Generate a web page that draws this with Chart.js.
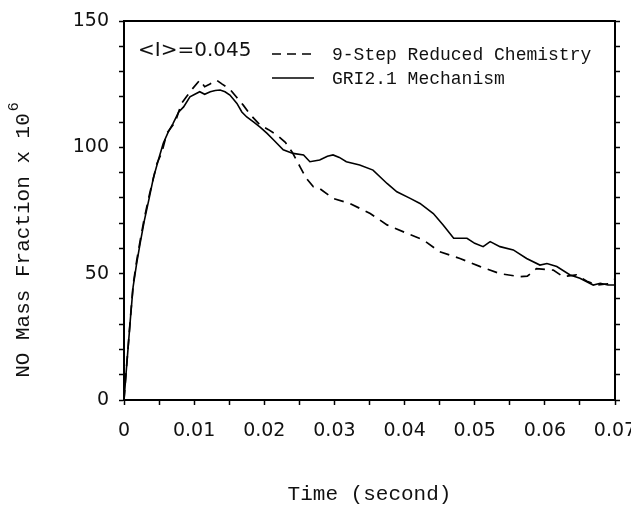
<!DOCTYPE html>
<html>
<head>
<meta charset="utf-8">
<script src="https://cdn.jsdelivr.net/npm/chart.js@4"></script>
<style>
  body { margin: 0; background: #fff; }
</style>
</head>
<body>
<canvas id="no-chart" width="631" height="508"></canvas>
<script>
// GRI 2.1 mechanism (solid)
const griTime = [0, 0.0003, 0.0009, 0.0013, 0.0018, 0.0023, 0.0029, 0.0036, 0.0042, 0.0049,
  0.0056, 0.0063, 0.007, 0.0078, 0.0085, 0.0094, 0.0101, 0.0108, 0.0115, 0.0123,
  0.013, 0.0137, 0.0144, 0.0151, 0.0161, 0.0168, 0.0175, 0.0185, 0.0194, 0.0204,
  0.0213, 0.0227, 0.0241, 0.0256, 0.0265, 0.0279, 0.029, 0.0298, 0.0307, 0.0317,
  0.0336, 0.0355, 0.0375, 0.0389, 0.0408, 0.0422, 0.0441, 0.0455, 0.047, 0.0479,
  0.0489, 0.05, 0.0512, 0.0522, 0.0536, 0.0555, 0.0574, 0.0593, 0.0603, 0.0617,
  0.0636, 0.065, 0.0669, 0.0679, 0.069, 0.07]
const griNO = [0, 10.7, 31.7, 44.8, 54, 62, 71, 80, 88, 95,
  101.6, 106, 109.5, 114, 116, 120, 121, 122, 121, 122,
  122.5, 122.7, 122, 120.7, 117.4, 114, 112, 110, 108, 105.5,
  103, 99, 97.6, 97, 94.3, 95, 96.5, 97, 96, 94.3,
  93, 91, 85.7, 82.4, 79.8, 77.8, 73.8, 69.3, 64, 64,
  64, 62, 60.7, 62.7, 60.7, 59.4, 56, 53.4, 54, 52.8,
  49.5, 48.2, 45.5, 46.2, 45.5, 45.5]

// 9-step reduced chemistry (dashed)
const redTime = [0, 0.0003, 0.0009, 0.0013, 0.0018, 0.0023, 0.0029, 0.0036, 0.0047, 0.0054,
  0.0061, 0.0073, 0.0082, 0.0089, 0.0097, 0.0108, 0.0115, 0.0122, 0.0132, 0.014,
  0.0151, 0.016, 0.017, 0.018, 0.0194, 0.0206, 0.0218, 0.023, 0.024, 0.0251,
  0.026, 0.027, 0.0279, 0.0298, 0.0322, 0.0351, 0.0375, 0.0403, 0.0427, 0.045,
  0.0479, 0.0508, 0.0536, 0.0565, 0.0575, 0.0588, 0.0612, 0.0626, 0.0645, 0.066,
  0.0674, 0.069, 0.0702]
const redNO = [0, 11, 32, 45.5, 55, 63, 72, 81, 93.6, 98,
  105.5, 110, 117.4, 120, 123, 126.6, 124, 125, 126.6, 125,
  123, 120, 116.7, 113, 108.8, 107, 104.9, 102, 98, 92.3,
  87.7, 84.4, 83.7, 79.8, 77.8, 73.8, 69.3, 66, 63.3, 58.7,
  56, 52.8, 50, 48.8, 49, 52, 51.4, 48.8, 49.5, 47,
  45.5, 46, 48.2]

const legendLabels = ['9-Step Reduced Chemistry', 'GRI2.1 Mechanism']
const intensityLabel = '<I>=0.045'
const yTitle = 'NO Mass Fraction x 10'
const yTitleSup = '6'

const toPoints = (xs, ys) => xs.map((x, i) => ({ x: x, y: ys[i] }))

const tickFont = { family: 'DejaVu Sans', size: 19 }
const monoFont = 'Liberation Mono'

// frame top line, y title with superscript, in-plot legend
const framePlugin = {
  id: 'frame',
  afterDraw(chart) {
    const ctx = chart.ctx
    const a = chart.chartArea
    ctx.save()
    ctx.strokeStyle = '#000'
    ctx.lineWidth = 2
    ctx.beginPath()
    ctx.moveTo(a.left, a.top)
    ctx.lineTo(a.right, a.top)
    ctx.stroke()

    ctx.fillStyle = '#111'
    ctx.textBaseline = 'middle'

    // y axis title
    ctx.save()
    ctx.translate(23, 240)
    ctx.rotate(-Math.PI / 2)
    ctx.font = '21px "' + monoFont + '"'
    const wMain = ctx.measureText(yTitle).width
    ctx.font = '15px "' + monoFont + '"'
    const wSup = ctx.measureText(yTitleSup).width
    const x0 = -(wMain + wSup + 2) / 2
    ctx.font = '21px "' + monoFont + '"'
    ctx.fillText(yTitle, x0, 0)
    ctx.font = '15px "' + monoFont + '"'
    ctx.fillText(yTitleSup, x0 + wMain + 2, -9)
    ctx.restore()

    ctx.font = '20px "DejaVu Sans"'
    ctx.fillText(intensityLabel, 138, 51)

    ctx.font = '18px "' + monoFont + '"'
    ctx.lineWidth = 1.6
    ctx.setLineDash([9, 6])
    ctx.beginPath()
    ctx.moveTo(272, 54)
    ctx.lineTo(314, 54)
    ctx.stroke()
    ctx.setLineDash([])
    ctx.beginPath()
    ctx.moveTo(272, 78)
    ctx.lineTo(314, 78)
    ctx.stroke()
    ctx.fillText(legendLabels[0], 332, 55)
    ctx.fillText(legendLabels[1], 332, 79)
    ctx.restore()
  }
}

const isMajor = (v, step) => Math.abs(v / step - Math.round(v / step)) < 1e-6

new Chart(document.getElementById('no-chart'), {
  type: 'line',
  data: {
    datasets: [{
      label: legendLabels[0],
      data: toPoints(redTime, redNO),
      borderColor: '#000',
      borderWidth: 1.7,
      borderDash: [10, 7],
      pointRadius: 0,
      tension: 0,
      fill: false
    }, {
      label: legendLabels[1],
      data: toPoints(griTime, griNO),
      borderColor: '#000',
      borderWidth: 1.6,
      pointRadius: 0,
      tension: 0,
      fill: false
    }]
  },
  options: {
    responsive: false,
    animation: false,
    layout: { padding: { top: 21, left: 0, right: 0, bottom: 0 } },
    plugins: {
      legend: { display: false },
      tooltip: { enabled: false }
    },
    scales: {
      x: {
        type: 'linear',
        position: 'bottom',
        min: 0,
        max: 0.07,
        border: { color: '#000', width: 2 },
        grid: { drawOnChartArea: false, drawTicks: true, tickLength: 5, tickColor: '#000', tickWidth: 1.5 },
        ticks: {
          stepSize: 0.005,
          autoSkip: false,
          maxRotation: 0,
          padding: 15,
          color: '#111',
          font: tickFont,
          callback: v => isMajor(v, 0.01) ? (v === 0 ? '0' : v.toFixed(2)) : ''
        },
        title: {
          display: true,
          text: 'Time (second)',
          color: '#111',
          font: { family: monoFont, size: 21 },
          padding: { top: 0, bottom: 1 }
        },
        afterFit: s => { s.height = 108; s.paddingLeft = 0; s.paddingRight = 0 }
      },
      y: {
        position: 'left',
        min: 0,
        max: 150,
        border: { color: '#000', width: 2 },
        grid: { drawOnChartArea: false, drawTicks: true, tickLength: 5, tickColor: '#000', tickWidth: 1.5 },
        ticks: {
          stepSize: 10,
          autoSkip: false,
          padding: 10,
          color: '#111',
          font: tickFont,
          callback: v => isMajor(v, 50) ? String(v) : ''
        },
        afterFit: s => { s.width = 124; s.paddingTop = 0; s.paddingBottom = 0 }
      },
      yRight: {
        position: 'right',
        min: 0,
        max: 150,
        border: { color: '#000', width: 2 },
        grid: { drawOnChartArea: false, drawTicks: true, tickLength: 5, tickColor: '#000', tickWidth: 1.5 },
        ticks: { stepSize: 10, autoSkip: false, callback: () => '' },
        afterFit: s => { s.width = 16; s.paddingTop = 0; s.paddingBottom = 0 }
      }
    }
  },
  plugins: [framePlugin]
})
</script>
</body>
</html>
